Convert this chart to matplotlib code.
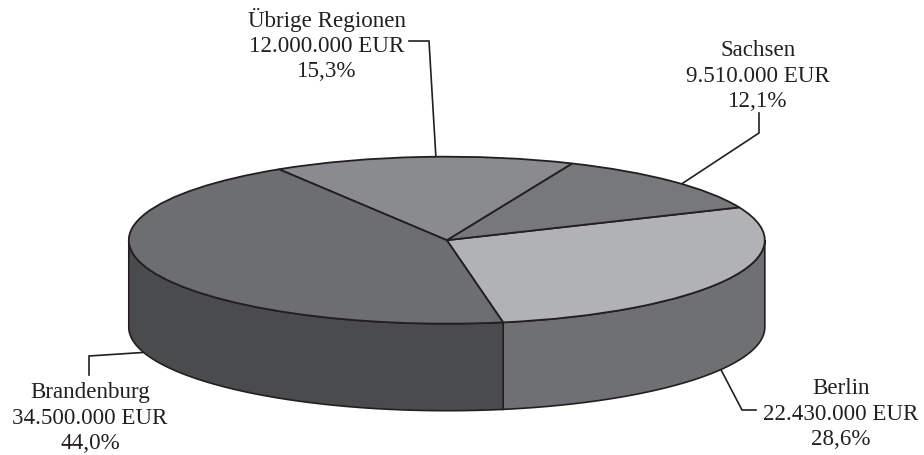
import numpy as np
import matplotlib
matplotlib.use("Agg")
import matplotlib.pyplot as plt
from matplotlib.patches import Polygon

plt.rcParams['font.family'] = ['Liberation Serif', 'DejaVu Serif']

# Regional revenue split, drawn counter-clockwise from the front of the disc
regions = ["Berlin", "Sachsen", "Übrige Regionen", "Brandenburg"]
amounts = [22430000, 9510000, 12000000, 34500000]
amount_labels = ["22.430.000 EUR", "9.510.000 EUR", "12.000.000 EUR", "34.500.000 EUR"]
share_labels = ["28,6%", "12,1%", "15,3%", "44,0%"]

top_colors = ["#b1b2b5", "#77787b", "#8a8b8e", "#6d6e71"]
wall_colors = ["#6f7073", "#77787b", "#8a8b8e", "#4a4b4d"]
edge_color = "#231f20"

W, H = 924, 456
CX, CY, RX, RY = 446.8, 241.2, 318.0, 83.5
DEPTH = 87.0 / RY
START = -79.8

fig = plt.figure(figsize=(W / 100, H / 100), dpi=100, facecolor="white")
ax = fig.add_axes([0, 0, 1, 1])


def pos(x, y):
    """Pixel position on the canvas to disc units."""
    return (x - CX) / RX, (CY - y) / RY


# Lid of the disc
ax.pie(amounts, colors=top_colors, startangle=START, counterclock=True, radius=1.0,
       center=(0, 0), frame=False, normalize=True,
       wedgeprops=dict(edgecolor=edge_color, linewidth=1.3, zorder=3))
ax.set_aspect("auto")
ax.set_xlim((0 - CX) / RX, (W - CX) / RX)
ax.set_ylim((CY - H) / RY, CY / RY)
ax.axis("off")

# Outer wall: only the part of each slice facing the viewer is visible
fractions = np.array(amounts) / np.sum(amounts)
edges = START + 360 * np.concatenate([[0], np.cumsum(fractions)])
for i in range(len(regions)):
    for shift in (-360, 0, 360):
        a0 = max(edges[i] + shift, -180)
        a1 = min(edges[i + 1] + shift, 0)
        if a1 <= a0:
            continue
        t = np.radians(np.linspace(a0, a1, 160))
        xs, ys = np.cos(t), np.sin(t)
        outline = np.column_stack([np.r_[xs, xs[::-1]], np.r_[ys, ys[::-1] - DEPTH]])
        ax.add_patch(Polygon(outline, closed=True, facecolor=wall_colors[i],
                             edgecolor=edge_color, linewidth=1.2, zorder=2))

# Leader lines from the labels to the disc
leaders = [
    [(718, 365), (742, 411), (756, 411)],
    [(680, 186), (759, 134), (759, 114)],
    [(436, 160), (429, 42), (409, 42)],
    [(150, 353), (89, 357), (89, 376)],
]
for path in leaders:
    pts = [pos(*p) for p in path]
    ax.plot(*zip(*pts), color=edge_color, lw=1.2, zorder=1, solid_joinstyle="miter")

# Three-line captions
caption_anchor = [(841, 414), (758, 76), (327, 45), (90, 418)]
for i, (x, y) in enumerate(caption_anchor):
    tx, ty = pos(x, y)
    ax.text(tx, ty, f"{regions[i]}\n{amount_labels[i]}\n{share_labels[i]}",
            ha="center", va="center", multialignment="center", fontsize=16.6,
            color=edge_color, linespacing=1.26, zorder=5)

fig.savefig("out.png", dpi=100, facecolor="white")
